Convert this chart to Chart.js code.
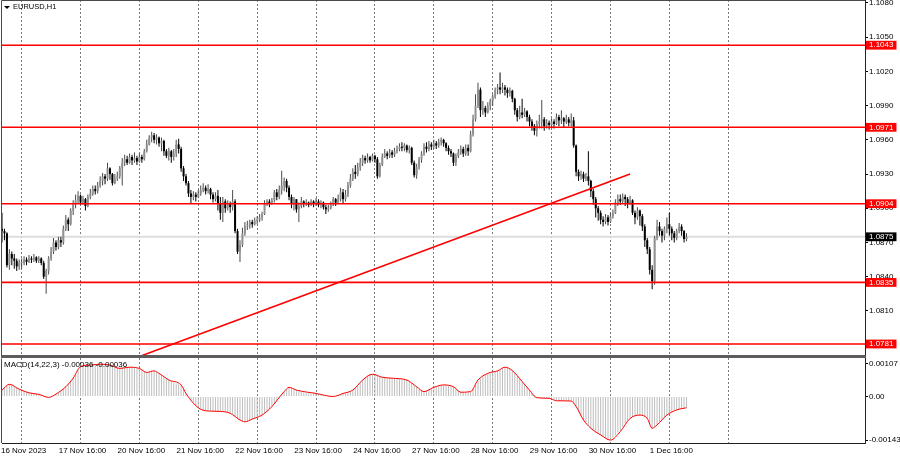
<!DOCTYPE html>
<html>
<head>
<meta charset="utf-8">
<script src="https://cdn.jsdelivr.net/npm/chart.js@4.4.1/dist/chart.umd.min.js"></script>
<style>
  body { margin: 0; width: 900px; height: 460px; overflow: hidden; position: relative; background: #fff;
         font-family: "Liberation Sans", Arial, sans-serif; }
  canvas { position: absolute; left: 0; }
  #main { top: 0; }
  #macd { top: 358px; }
  #sep { position: absolute; left: 1px; top: 355px; width: 865px; height: 3px; background: #5c5c5c; }
  .txt { position: absolute; color: #000; white-space: nowrap; line-height: 1; }
  .tri { position: absolute; left: 4px; top: 6px; width: 0; height: 0;
         border-left: 3px solid transparent; border-right: 3px solid transparent; border-top: 3px solid #000; }
</style>
</head>
<body>
<canvas id="main" width="900" height="355"></canvas>
<div id="sep"></div>
<canvas id="macd" width="900" height="102"></canvas>
<div class="tri"></div>
<div class="txt" style="left:13px;top:3px;font-size:7.5px">EURUSD,H1</div>
<div class="txt" style="left:4px;top:361px;font-size:8px">MACD(14,22,3) -0.00036 -0.00036</div>

<script>
// EURUSD H1, one entry per hourly bar, starting 16 Nov 08:00
const firstOpen = 1.0882;
const closes = [
  1.0880, 1.0878, 1.0850, 1.0860, 1.0856, 1.0854, 1.0849, 1.0852, 1.0852, 1.0855,
  1.0853, 1.0856, 1.0855, 1.0857, 1.0854, 1.0856, 1.0852, 1.0840, 1.0845, 1.0856,
  1.0862, 1.0870, 1.0866, 1.0872, 1.0870, 1.0882, 1.0890, 1.0886, 1.0898, 1.0904,
  1.0907, 1.0911, 1.0905, 1.0908, 1.0902, 1.0910, 1.0913, 1.0917, 1.0915, 1.0920,
  1.0924, 1.0928, 1.0926, 1.0935, 1.0930, 1.0922, 1.0926, 1.0928, 1.0935, 1.0940,
  1.0943, 1.0940, 1.0945, 1.0942, 1.0944, 1.0941, 1.0945, 1.0943, 1.0950, 1.0956,
  1.0962, 1.0964, 1.0960, 1.0962, 1.0957, 1.0959, 1.0950, 1.0946, 1.0950, 1.0945,
  1.0948, 1.0956, 1.0952, 1.0935, 1.0928, 1.0922, 1.0913, 1.0910, 1.0912, 1.0910,
  1.0913, 1.0916, 1.0918, 1.0915, 1.0917, 1.0912, 1.0908, 1.0911, 1.0904, 1.0896,
  1.0906, 1.0900, 1.0904, 1.0901, 1.0906, 1.0880, 1.0862, 1.0868, 1.0878, 1.0884,
  1.0885, 1.0888, 1.0886, 1.0889, 1.0890, 1.0892, 1.0895, 1.0904, 1.0906, 1.0904,
  1.0907, 1.0914, 1.0910, 1.0916, 1.0920, 1.0924, 1.0918, 1.0910, 1.0904, 1.0908,
  1.0899, 1.0902, 1.0906, 1.0904, 1.0905, 1.0903, 1.0906, 1.0904, 1.0906, 1.0903,
  1.0905, 1.0901, 1.0899, 1.0900, 1.0904, 1.0908, 1.0905, 1.0908, 1.0914, 1.0908,
  1.0912, 1.0920, 1.0926, 1.0932, 1.0930, 1.0936, 1.0940, 1.0944, 1.0942, 1.0945,
  1.0942, 1.0946, 1.0943, 1.0928, 1.0938, 1.0945, 1.0948, 1.0946, 1.0949, 1.0947,
  1.0950, 1.0952, 1.0954, 1.0953, 1.0955, 1.0951, 1.0953, 1.0940, 1.0929, 1.0936,
  1.0943, 1.0948, 1.0954, 1.0952, 1.0956, 1.0954, 1.0957, 1.0955, 1.0958, 1.0960,
  1.0957, 1.0953, 1.0950, 1.0948, 1.0940, 1.0946, 1.0949, 1.0952, 1.0948, 1.0953,
  1.0950, 1.0965, 1.0978, 1.0990, 1.1004, 1.0986, 1.0988, 1.0984, 1.0990, 1.0994,
  1.0998, 1.1004, 1.1006, 1.1004, 1.1006, 1.1004, 1.1001, 1.1003, 1.0996, 1.0986,
  1.0980, 1.0984, 1.0982, 1.0985, 1.0980, 1.0976, 1.0972, 1.0968, 1.0974, 1.0976,
  1.0978, 1.0972, 1.0975, 1.0973, 1.0976, 1.0974, 1.0980, 1.0977, 1.0979, 1.0976,
  1.0978, 1.0975, 1.0977, 1.0955, 1.0932, 1.0928, 1.0930, 1.0926, 1.0928, 1.0924,
  1.0915, 1.0908, 1.0900, 1.0896, 1.0890, 1.0888, 1.0892, 1.0888, 1.0893, 1.0896,
  1.0904, 1.0908, 1.0906, 1.0910, 1.0908, 1.0904, 1.0907, 1.0896, 1.0892, 1.0898,
  1.0893, 1.0884, 1.0872, 1.0864, 1.0846, 1.0836, 1.0874, 1.0884, 1.0880, 1.0876,
  1.0882, 1.0886, 1.0882, 1.0878, 1.0874, 1.0880, 1.0884, 1.0880, 1.0873, 1.0875
];
const highs = [
  1.0896, 1.0882, 1.0879, 1.0864, 1.0862, 1.0860, 1.0856, 1.0855, 1.0856, 1.0858,
  1.0857, 1.0859, 1.0858, 1.0860, 1.0858, 1.0858, 1.0857, 1.0854, 1.0847, 1.0858,
  1.0866, 1.0874, 1.0872, 1.0875, 1.0875, 1.0885, 1.0894, 1.0892, 1.0900, 1.0907,
  1.0912, 1.0915, 1.0912, 1.0911, 1.0909, 1.0912, 1.0917, 1.0920, 1.0920, 1.0923,
  1.0928, 1.0931, 1.0930, 1.0940, 1.0936, 1.0931, 1.0930, 1.0932, 1.0937, 1.0944,
  1.0947, 1.0946, 1.0948, 1.0947, 1.0949, 1.0946, 1.0948, 1.0947, 1.0952, 1.0960,
  1.0964, 1.0967, 1.0966, 1.0965, 1.0963, 1.0962, 1.0960, 1.0952, 1.0953, 1.0951,
  1.0952, 1.0960, 1.0961, 1.0954, 1.0937, 1.0930, 1.0924, 1.0916, 1.0915, 1.0914,
  1.0916, 1.0920, 1.0922, 1.0920, 1.0921, 1.0918, 1.0914, 1.0914, 1.0916, 1.0910,
  1.0910, 1.0908, 1.0907, 1.0906, 1.0916, 1.0908, 1.0882, 1.0872, 1.0883, 1.0888,
  1.0889, 1.0890, 1.0890, 1.0892, 1.0893, 1.0895, 1.0897, 1.0907, 1.0908, 1.0908,
  1.0909, 1.0916, 1.0917, 1.0920, 1.0933, 1.0927, 1.0926, 1.0920, 1.0912, 1.0910,
  1.0908, 1.0905, 1.0910, 1.0907, 1.0908, 1.0906, 1.0908, 1.0907, 1.0909, 1.0908,
  1.0907, 1.0906, 1.0903, 1.0903, 1.0906, 1.0910, 1.0909, 1.0912, 1.0918, 1.0917,
  1.0916, 1.0923, 1.0930, 1.0935, 1.0938, 1.0940, 1.0944, 1.0947, 1.0946, 1.0948,
  1.0946, 1.0948, 1.0947, 1.0945, 1.0940, 1.0948, 1.0952, 1.0950, 1.0952, 1.0951,
  1.0953, 1.0955, 1.0957, 1.0958, 1.0957, 1.0956, 1.0955, 1.0954, 1.0942, 1.0939,
  1.0945, 1.0950, 1.0957, 1.0958, 1.0959, 1.0958, 1.0960, 1.0959, 1.0961, 1.0962,
  1.0961, 1.0958, 1.0955, 1.0952, 1.0949, 1.0948, 1.0952, 1.0955, 1.0954, 1.0956,
  1.0956, 1.0968, 1.0982, 1.1000, 1.1010, 1.1006, 1.0994, 1.0990, 1.0993, 1.0996,
  1.1000, 1.1006, 1.1009, 1.1019, 1.1010, 1.1008, 1.1006, 1.1006, 1.1004, 1.0997,
  1.0988, 1.0990, 1.0996, 1.0988, 1.0986, 1.0982, 1.0978, 1.0974, 1.0977, 1.0982,
  1.0995, 1.0980, 1.0978, 1.0977, 1.0979, 1.0978, 1.0983, 1.0982, 1.0986, 1.0980,
  1.0982, 1.0980, 1.0983, 1.0980, 1.0956, 1.0934, 1.0933, 1.0932, 1.0931, 1.0950,
  1.0925, 1.0917, 1.0910, 1.0902, 1.0898, 1.0893, 1.0895, 1.0894, 1.0896, 1.0899,
  1.0908, 1.0912, 1.0912, 1.0913, 1.0912, 1.0910, 1.0911, 1.0908, 1.0898, 1.0901,
  1.0899, 1.0895, 1.0886, 1.0874, 1.0866, 1.0850, 1.0876, 1.0890, 1.0888, 1.0882,
  1.0884, 1.0892, 1.0896, 1.0884, 1.0880, 1.0882, 1.0887, 1.0886, 1.0881, 1.0878
];
const lows = [
  1.0870, 1.0872, 1.0848, 1.0846, 1.0850, 1.0847, 1.0845, 1.0846, 1.0847, 1.0850,
  1.0850, 1.0852, 1.0852, 1.0853, 1.0852, 1.0852, 1.0850, 1.0838, 1.0825, 1.0842,
  1.0854, 1.0860, 1.0863, 1.0864, 1.0866, 1.0868, 1.0880, 1.0880, 1.0885, 1.0894,
  1.0900, 1.0904, 1.0903, 1.0903, 1.0898, 1.0901, 1.0908, 1.0911, 1.0912, 1.0913,
  1.0918, 1.0920, 1.0921, 1.0924, 1.0925, 1.0920, 1.0921, 1.0924, 1.0926, 1.0920,
  1.0937, 1.0938, 1.0939, 1.0938, 1.0940, 1.0938, 1.0940, 1.0940, 1.0942, 1.0949,
  1.0955, 1.0958, 1.0957, 1.0956, 1.0954, 1.0950, 1.0946, 1.0944, 1.0942, 1.0940,
  1.0942, 1.0945, 1.0948, 1.0932, 1.0924, 1.0920, 1.0910, 1.0904, 1.0907, 1.0906,
  1.0909, 1.0911, 1.0914, 1.0912, 1.0913, 1.0908, 1.0905, 1.0906, 1.0898, 1.0890,
  1.0888, 1.0896, 1.0898, 1.0896, 1.0898, 1.0878, 1.0860, 1.0853, 1.0866, 1.0876,
  1.0881, 1.0882, 1.0883, 1.0885, 1.0886, 1.0888, 1.0889, 1.0894, 1.0902, 1.0901,
  1.0903, 1.0905, 1.0907, 1.0908, 1.0912, 1.0915, 1.0914, 1.0907, 1.0900, 1.0898,
  1.0896, 1.0888, 1.0900, 1.0901, 1.0902, 1.0901, 1.0902, 1.0901, 1.0902, 1.0901,
  1.0900, 1.0899, 1.0895, 1.0897, 1.0899, 1.0902, 1.0902, 1.0904, 1.0906, 1.0904,
  1.0906, 1.0910, 1.0918, 1.0924, 1.0926, 1.0928, 1.0933, 1.0937, 1.0939, 1.0940,
  1.0940, 1.0941, 1.0940, 1.0926, 1.0927, 1.0937, 1.0944, 1.0943, 1.0944, 1.0944,
  1.0945, 1.0948, 1.0950, 1.0950, 1.0950, 1.0949, 1.0948, 1.0938, 1.0927, 1.0926,
  1.0934, 1.0940, 1.0946, 1.0949, 1.0950, 1.0951, 1.0952, 1.0952, 1.0953, 1.0955,
  1.0954, 1.0950, 1.0947, 1.0945, 1.0937, 1.0937, 1.0944, 1.0947, 1.0945, 1.0946,
  1.0946, 1.0949, 1.0963, 1.0976, 1.0988, 1.0980, 1.0982, 1.0980, 1.0983, 1.0986,
  1.0990, 1.0996, 1.1000, 1.1000, 1.1001, 1.0999, 1.0997, 1.0998, 1.0993, 1.0982,
  1.0976, 1.0978, 1.0979, 1.0980, 1.0976, 1.0972, 1.0968, 1.0964, 1.0963, 1.0970,
  1.0970, 1.0968, 1.0970, 1.0969, 1.0971, 1.0970, 1.0973, 1.0972, 1.0974, 1.0971,
  1.0974, 1.0972, 1.0972, 1.0953, 1.0928, 1.0924, 1.0925, 1.0923, 1.0924, 1.0920,
  1.0910, 1.0903, 1.0892, 1.0889, 1.0886, 1.0884, 1.0886, 1.0885, 1.0887, 1.0891,
  1.0895, 1.0902, 1.0903, 1.0904, 1.0902, 1.0900, 1.0903, 1.0894, 1.0886, 1.0890,
  1.0885, 1.0880, 1.0866, 1.0860, 1.0842, 1.0829, 1.0833, 1.0872, 1.0876, 1.0870,
  1.0872, 1.0878, 1.0876, 1.0872, 1.0870, 1.0872, 1.0878, 1.0876, 1.0870, 1.0871
];

// MACD main (histogram), in units of 0.00001, one per bar
const macdHist = [
  21, 28, 35, 40, 38, 34, 29, 25, 20, 17,
  14, 12, 10, 9, 8, 7, 6, 4, 1, -2,
  0, 4, 8, 12, 18, 25, 33, 42, 52, 62,
  74, 86, 96, 100, 101, 102, 103, 104, 105, 106,
  106, 106, 105, 104, 103, 100, 96, 93, 92, 94,
  96, 96, 96, 95, 94, 93, 92, 88, 82, 79,
  82, 85, 84, 80, 76, 70, 64, 58, 54, 50,
  46, 42, 40, 36, 25, 10, 0, -10, -20, -30,
  -38, -42, -45, -47, -48, -48, -48, -48, -49, -49,
  -50, -52, -54, -55, -58, -65, -72, -78, -82, -84,
  -82, -79, -75, -72, -68, -65, -61, -56, -50, -42,
  -33, -24, -14, -4, 6, 16, 24, 30, 30, 26,
  21, 17, 15, 13, 12, 11, 10, 10, 10, 9,
  7, 5, 3, 2, 1, 0, 2, 5, 8, 10,
  12, 14, 17, 21, 28, 36, 45, 54, 62, 68,
  72, 74, 73, 69, 65, 63, 62, 61, 61, 60,
  59, 58, 57, 56, 55, 54, 50, 44, 38, 32,
  25, 19, 16, 20, 25, 28, 30, 33, 36, 38,
  38, 37, 35, 33, 32, 26, 20, 14, 13, 13,
  14, 16, 25, 38, 50, 60, 68, 73, 76, 78,
  80, 82, 84, 88, 92, 96, 95, 90, 85, 77,
  68, 58, 49, 40, 30, 21, 12, 5, -1, -4,
  -4, -5, -5, -6, -8, -10, -12, -14, -14, -14,
  -14, -15, -15, -20, -33, -48, -62, -77, -86, -95,
  -104, -110, -117, -122, -126, -132, -137, -140, -143, -138,
  -128, -118, -112, -100, -88, -78, -72, -67, -64, -62,
  -61, -63, -67, -74, -90, -106, -100, -92, -84, -76,
  -68, -61, -56, -51, -47, -44, -42, -40, -38, -36
];
// signal line, read at these bars
const signalBars = [0, 3, 7, 11, 15, 19, 22, 26, 29, 32, 36, 40, 44, 48, 52, 56, 59, 62, 64, 68,
  73, 75, 78, 81, 85, 89, 93, 97, 99, 102, 106, 110, 115, 117, 120, 128, 135, 139, 143, 147,
  151, 155, 159, 165, 169, 172, 176, 180, 184, 187, 191, 194, 198, 202, 205, 208, 212, 215, 218, 223,
  226, 232, 234, 237, 240, 244, 248, 252, 256, 260, 263, 265, 267, 271, 275, 279];
const signalValues = [21, 40, 24, 12, 7, -3, 8, 32, 60, 98, 103, 106, 103, 92, 96, 92, 79, 84, 76, 54,
  38, 10, -22, -42, -48, -49, -55, -77, -83, -74, -61, -33, 16, 30, 21, 10, 0, 10, 21, 54,
  73, 63, 60, 54, 32, 16, 30, 38, 32, 14, 16, 54, 76, 84, 96, 85, 49, 21, -4, -6,
  -14, -15, -33, -77, -104, -126, -143, -115, -72, -61, -72, -104, -93, -61, -44, -37];

const levels = [1.1043, 1.0971, 1.0904, 1.0835, 1.0781];
const bidPrice = 1.0875;
const trendBars = [56, 256];
const trendPrices = [1.0770, 1.0930];

const gridBars = [8, 32, 56, 80, 104, 128, 152, 176, 200, 224, 248, 272, 296];
const timeLabels = ['16 Nov 2023', '17 Nov 16:00', '20 Nov 16:00', '21 Nov 16:00', '22 Nov 16:00',
  '23 Nov 16:00', '24 Nov 16:00', '27 Nov 16:00', '28 Nov 16:00', '29 Nov 16:00', '30 Nov 16:00',
  '1 Dec 16:00', ''];
const priceTicks = [1.1080, 1.1050, 1.1020, 1.0990, 1.0960, 1.0930, 1.0900, 1.0870, 1.0840, 1.0810];
const macdTicks = [107, 0, -143];

const X_MAX = 351.75;
const tickFont = { family: '"Liberation Sans", Arial, sans-serif', size: 8, lineHeight: 1.1 };

const opens = closes.map((c, i) => (i === 0 ? firstOpen : closes[i - 1]));
const isUp = closes.map((c, i) => c >= opens[i]);
const near = (a, b) => Math.abs(a - b) < 1e-7;
const isLevel = v => levels.some(l => near(l, v));

// keep plot areas at fixed pixels: no label overhang padding
const fixWidth = w => s => { s.width = w; s.paddingTop = 0; s.paddingBottom = 0; };
const fixHeight = h => s => { s.height = h; s.paddingLeft = 0; s.paddingRight = 0; };

const frame = {
    id: 'frame',
    afterDraw(chart) {
        const { ctx, chartArea: a } = chart;
        ctx.save();
        ctx.strokeStyle = '#4a4a4a';
        ctx.lineWidth = 1;
        ctx.beginPath();
        ctx.moveTo(a.left - 0.5, a.bottom);
        ctx.lineTo(a.left - 0.5, a.top + 0.5);
        if (chart.canvas.id === 'main') ctx.lineTo(a.right, a.top + 0.5);
        ctx.stroke();
        ctx.restore();
    }
};

const xScale = (showLabels) => ({
    type: 'linear', min: 0, max: X_MAX, offset: false,
    afterBuildTicks: s => { s.ticks = gridBars.map(v => ({ value: v })); },
    afterFit: fixHeight(showLabels ? 17 : 0),
    ticks: {
        display: showLabels, autoSkip: false, maxRotation: 0, minRotation: 0,
        padding: 3, labelOffset: 2, font: tickFont, color: '#000',
        callback: (v, i) => timeLabels[i]
    },
    grid: { offset: false, color: '#7a7a7a', lineWidth: 1, drawTicks: false },
    border: { display: showLabels, color: '#222', width: 1, dash: [2, 2] }
});

const hLine = (price, color, width, order) => ({
    type: 'line',
    data: [{ x: 0, y: price }, { x: X_MAX, y: price }],
    borderColor: color, borderWidth: width, pointRadius: 0, order
});

new Chart(document.getElementById('main'), {
    type: 'bar',
    data: {
        datasets: [
            ...levels.map(p => hLine(p, '#ff0000', 1.6, 0)),
            {
                type: 'line',
                data: trendBars.map((b, i) => ({ x: b, y: trendPrices[i] })),
                borderColor: '#ff0000', borderWidth: 1.6, pointRadius: 0, order: 0
            },
            {
                data: opens.map((o, i) => ({ x: i, y: [o, closes[i]] })),
                backgroundColor: isUp.map(u => (u ? '#909090' : '#000')),
                barThickness: 2, maxBarThickness: 2, minBarLength: 1,
                grouped: false, inflateAmount: 0, order: 1
            },
            {
                data: highs.map((h, i) => ({ x: i, y: [lows[i], h] })),
                backgroundColor: isUp.map(u => (u ? '#4a4a4a' : '#000')),
                barThickness: 1, maxBarThickness: 1,
                grouped: false, inflateAmount: 0, order: 2
            },
            hLine(bidPrice, '#dddddd', 2, 3)
        ]
    },
    options: {
        responsive: false, animation: false, devicePixelRatio: 1, events: [],
        layout: { padding: { left: 2, top: 0, right: 0, bottom: 0 }, autoPadding: false },
        plugins: { legend: { display: false }, tooltip: { enabled: false } },
        scales: {
            x: xScale(false),
            y: {
                position: 'right', min: 1.077135, max: 1.108263, beginAtZero: false,
                afterBuildTicks: s => {
                    s.ticks = [...priceTicks, ...levels, bidPrice].map(v => ({ value: v }));
                },
                afterFit: fixWidth(35),
                ticks: {
                    autoSkip: false, padding: 1, font: tickFont,
                    callback: v => v.toFixed(4),
                    color: c => (isLevel(c.tick.value) || near(c.tick.value, bidPrice) ? '#fff' : '#000'),
                    showLabelBackdrop: true,
                    backdropColor: c => (isLevel(c.tick.value) ? '#ff0000'
                        : near(c.tick.value, bidPrice) ? '#000' : 'rgba(0,0,0,0)'),
                    backdropPadding: { left: 3, right: 3, top: 0, bottom: 0 }
                },
                grid: { drawOnChartArea: false, tickLength: 3, tickColor: '#000' },
                border: { display: true, color: '#222', width: 1 }
            }
        }
    },
    plugins: [frame]
});

new Chart(document.getElementById('macd'), {
    type: 'bar',
    data: {
        datasets: [
            {
                type: 'line',
                data: signalBars.map((b, i) => ({ x: b, y: signalValues[i] })),
                borderColor: '#ff0000', borderWidth: 1, pointRadius: 0,
                cubicInterpolationMode: 'monotone', order: 0
            },
            {
                data: macdHist.map((v, i) => ({ x: i, y: v })),
                backgroundColor: '#bdbdbd',
                barThickness: 1, maxBarThickness: 1, inflateAmount: 0, order: 1
            }
        ]
    },
    options: {
        responsive: false, animation: false, devicePixelRatio: 1, events: [],
        layout: { padding: { left: 2, top: 0, right: 0, bottom: 0 }, autoPadding: false },
        plugins: { legend: { display: false }, tooltip: { enabled: false } },
        scales: {
            x: xScale(true),
            y: {
                position: 'right', min: -152.5, max: 126.2, beginAtZero: false,
                afterBuildTicks: s => { s.ticks = macdTicks.map(v => ({ value: v })); },
                afterFit: fixWidth(35),
                ticks: {
                    autoSkip: false, padding: 1, font: tickFont, color: '#000',
                    callback: v => (v === 0 ? '0.00' : (v / 100000).toFixed(5))
                },
                grid: { drawOnChartArea: false, tickLength: 3, tickColor: '#000' },
                border: { display: true, color: '#222', width: 1 }
            }
        }
    },
    plugins: [frame]
});
</script>
</body>
</html>
